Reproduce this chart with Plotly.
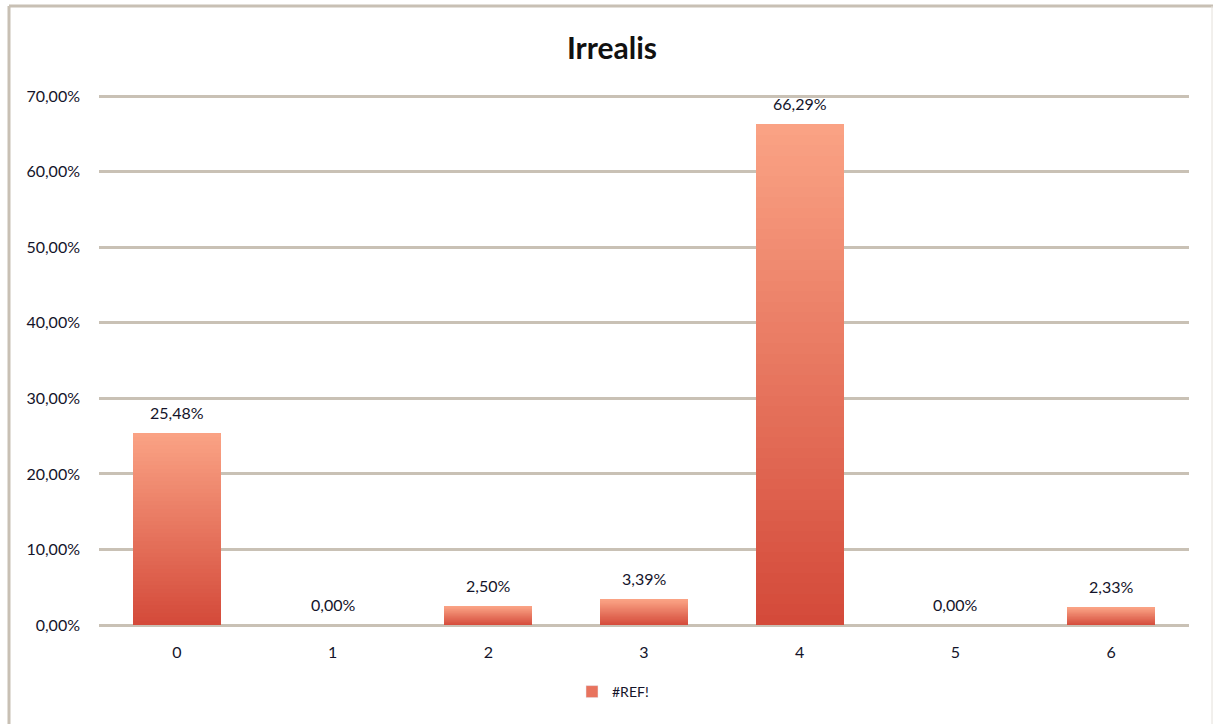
import plotly.graph_objects as go

# Chart data
categories = ["0", "1", "2", "3", "4", "5", "6"]
values = [25.48, 0.00, 2.50, 3.39, 66.29, 0.00, 2.33]
y_ticks = [0, 10, 20, 30, 40, 50, 60, 70]
y_tick_labels = ["0,00%", "10,00%", "20,00%", "30,00%", "40,00%", "50,00%", "60,00%", "70,00%"]
series_name = "#REF!"
title = "Irrealis"

FONT = "Lato, 'Open Sans', sans-serif"
TEXT_COLOR = "#14142a"
GRID_COLOR = "#c9c1b5"
TOP_RGB = (250, 162, 132)
BOTTOM_RGB = (212, 74, 58)
N_SLICES = 48
Y_MAX = 70.3


def fmt(v):
    return f"{v:.2f}".replace(".", ",") + "%"


def mix(t):
    r, g, b = (round(BOTTOM_RGB[i] + (TOP_RGB[i] - BOTTOM_RGB[i]) * t) for i in range(3))
    return f"rgb({r},{g},{b})"


fig = go.Figure()

# Each bar is stacked from thin slices so its colour runs from dark at the base to light at the top
for k in range(N_SLICES):
    fig.add_trace(go.Bar(
        x=categories,
        y=[v / N_SLICES for v in values],
        width=0.565,
        marker=dict(color=mix(k / (N_SLICES - 1)), line=dict(width=0)),
        showlegend=False,
        hoverinfo="skip",
    ))

# Legend entry for the series
fig.add_trace(go.Bar(
    x=categories,
    y=[None] * len(categories),
    name=series_name,
    marker=dict(color="#e8735e"),
    showlegend=True,
))

# Value labels above each bar
for c, v in zip(categories, values):
    fig.add_annotation(
        x=c, y=v, xref="x", yref="y",
        text=fmt(v), showarrow=False,
        yanchor="bottom", yshift=9,
        font=dict(family=FONT, size=16, color=TEXT_COLOR),
    )

W, H = 1213, 724
ML, MR, MT, MB = 99, 24, 94, 99
pw, ph = W - ML - MR, H - MT - MB


def px_x(x):
    return (x - ML) / pw


def px_y(y):
    return 1 - (y - MT) / ph


fig.update_layout(
    width=W,
    height=H,
    margin=dict(l=ML, r=MR, t=MT, b=MB),
    paper_bgcolor="white",
    plot_bgcolor="white",
    barmode="stack",
    bargap=0,
    title=dict(
        text=f"<b>{title}</b>",
        x=612 / W,
        xref="container",
        xanchor="center",
        y=1 - 48 / H,
        yref="container",
        yanchor="middle",
        font=dict(family=FONT, size=30, color="#111111"),
    ),
    font=dict(family=FONT, size=16, color=TEXT_COLOR),
    showlegend=True,
    legend=dict(
        orientation="h",
        x=px_x(613),
        xanchor="center",
        y=px_y(692),
        yanchor="middle",
        font=dict(family=FONT, size=14, color=TEXT_COLOR),
        itemwidth=30,
        bgcolor="rgba(0,0,0,0)",
    ),
    xaxis=dict(
        type="category",
        showgrid=False,
        showline=False,
        ticks="",
        ticklabelstandoff=16,
        tickfont=dict(family=FONT, size=16, color=TEXT_COLOR),
        fixedrange=True,
    ),
    yaxis=dict(
        range=[0, Y_MAX],
        tickvals=y_ticks,
        ticktext=y_tick_labels,
        showgrid=True,
        gridcolor=GRID_COLOR,
        gridwidth=2.5,
        zeroline=True,
        zerolinecolor=GRID_COLOR,
        zerolinewidth=2.5,
        showline=False,
        ticks="",
        ticklabelstandoff=18,
        tickfont=dict(family=FONT, size=16, color=TEXT_COLOR),
        fixedrange=True,
    ),
    shapes=[
        # chart-area frame (left, top and right edges)
        dict(type="line", xref="paper", yref="paper",
             x0=px_x(9), x1=px_x(9), y0=px_y(6), y1=px_y(730),
             line=dict(color="#c8c0b4", width=3)),
        dict(type="line", xref="paper", yref="paper",
             x0=px_x(9), x1=px_x(1213), y0=px_y(6), y1=px_y(6),
             line=dict(color="#c8c0b4", width=3)),
        dict(type="line", xref="paper", yref="paper",
             x0=px_x(1212), x1=px_x(1212), y0=px_y(6), y1=px_y(730),
             line=dict(color="#e4e0da", width=1)),
    ],
)

fig.write_html("out.html")
